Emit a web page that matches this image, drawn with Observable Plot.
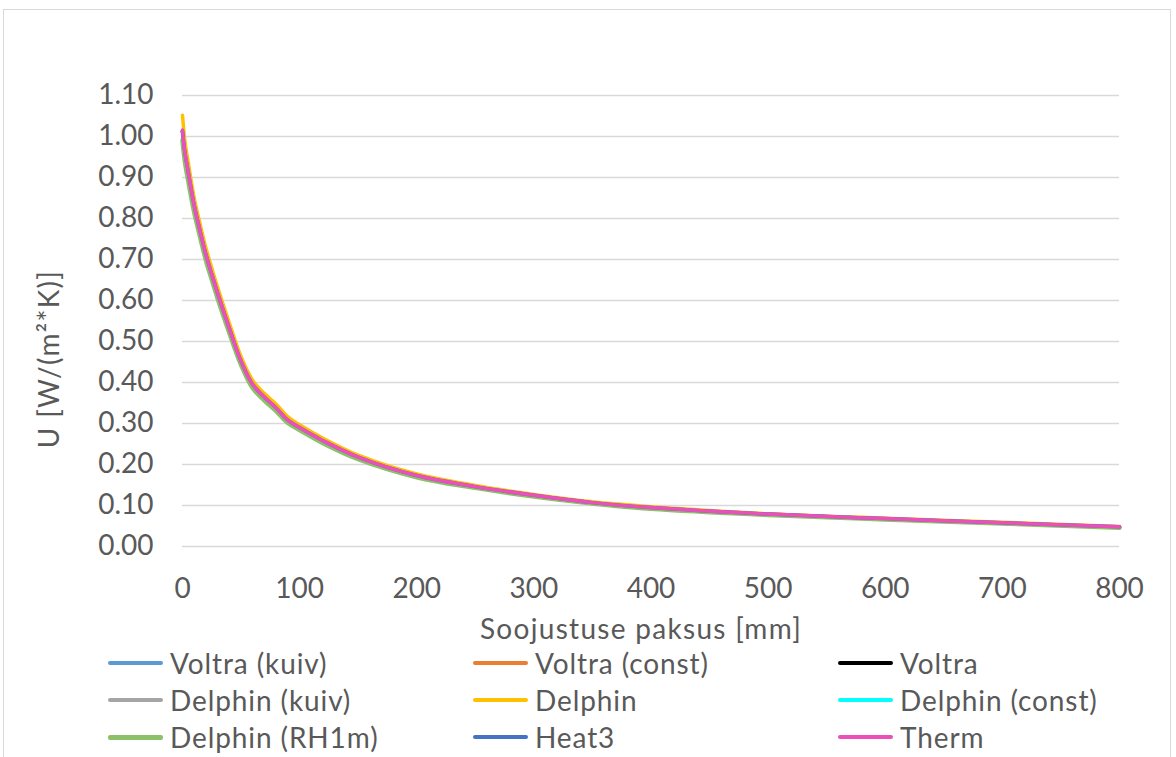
<!DOCTYPE html>
<html>
<head>
<meta charset="utf-8">
<script src="https://cdn.jsdelivr.net/npm/d3@7"></script>
<script src="https://cdn.jsdelivr.net/npm/@observablehq/plot@0.6"></script>
<style>
  html, body { margin: 0; padding: 0; background: #fff; }
  body { width: 1176px; height: 757px; position: relative; overflow: hidden; font-family: Lato, "Open Sans", sans-serif; }
  #frame { position: absolute; left: 3px; top: 9px; width: 1168px; height: 800px; border: 1px solid #d9d9d9; box-sizing: border-box; }
  #chart { position: absolute; left: 0; top: 0; }
  #legend { position: absolute; left: 0; top: 640px; width: 1176px; height: 117px; }
  .item { position: absolute; display: flex; align-items: center; height: 30px; color: #595959; font-size: 28px; letter-spacing: 0.9px; white-space: nowrap; }
  .item .swatch { width: 55px; height: 4px; border-radius: 2px; margin-right: 7px; }
  g.axis-title text { letter-spacing: 1.3px; }
</style>
</head>
<body>
<div id="frame"></div>
<div id="chart"></div>
<div id="legend"></div>
<script>
// Insulation thickness [mm]
const thickness = [0, 2, 5, 10, 15, 20, 25, 30, 40, 50, 60, 70, 80, 90, 100, 120, 150, 200, 250, 300, 350, 400, 500, 600, 700, 800];

// U-values [W/(m²·K)] per calculation tool
const voltraKuiv   = [1.012, 0.960, 0.910, 0.830, 0.768, 0.710, 0.662, 0.616, 0.530, 0.450, 0.393, 0.362, 0.336, 0.306, 0.288, 0.256, 0.216, 0.172, 0.145, 0.124, 0.106, 0.094, 0.078, 0.067, 0.057, 0.047];
const voltraConst  = [1.014, 0.961, 0.911, 0.831, 0.769, 0.711, 0.663, 0.617, 0.531, 0.451, 0.394, 0.363, 0.337, 0.307, 0.289, 0.257, 0.217, 0.172, 0.145, 0.124, 0.106, 0.094, 0.078, 0.067, 0.057, 0.047];
const voltra       = [1.013, 0.960, 0.910, 0.830, 0.768, 0.710, 0.663, 0.617, 0.531, 0.451, 0.394, 0.363, 0.337, 0.307, 0.289, 0.257, 0.217, 0.172, 0.145, 0.124, 0.106, 0.094, 0.078, 0.067, 0.057, 0.047];
const delphinKuiv  = [1.005, 0.955, 0.905, 0.826, 0.765, 0.707, 0.660, 0.614, 0.528, 0.448, 0.391, 0.360, 0.334, 0.305, 0.287, 0.255, 0.215, 0.171, 0.144, 0.123, 0.106, 0.093, 0.078, 0.067, 0.057, 0.047];
const delphin      = [1.052, 0.990, 0.935, 0.850, 0.787, 0.728, 0.679, 0.632, 0.545, 0.463, 0.405, 0.373, 0.347, 0.316, 0.297, 0.264, 0.223, 0.177, 0.149, 0.127, 0.109, 0.097, 0.080, 0.069, 0.059, 0.049];
const delphinConst = [1.010, 0.958, 0.908, 0.828, 0.767, 0.709, 0.661, 0.615, 0.529, 0.449, 0.392, 0.361, 0.335, 0.306, 0.288, 0.256, 0.216, 0.171, 0.145, 0.124, 0.106, 0.094, 0.078, 0.067, 0.057, 0.047];
const delphinRH1m  = [0.990, 0.940, 0.890, 0.815, 0.755, 0.698, 0.651, 0.605, 0.521, 0.443, 0.386, 0.356, 0.330, 0.301, 0.284, 0.252, 0.213, 0.169, 0.143, 0.122, 0.105, 0.092, 0.077, 0.066, 0.056, 0.046];
const heat3        = [1.015, 0.962, 0.912, 0.832, 0.770, 0.712, 0.664, 0.618, 0.532, 0.452, 0.395, 0.364, 0.338, 0.308, 0.290, 0.258, 0.218, 0.173, 0.146, 0.125, 0.107, 0.095, 0.079, 0.068, 0.058, 0.048];
const therm        = [1.015, 0.962, 0.912, 0.832, 0.770, 0.712, 0.664, 0.618, 0.532, 0.452, 0.395, 0.364, 0.338, 0.308, 0.290, 0.258, 0.218, 0.173, 0.146, 0.125, 0.107, 0.095, 0.079, 0.068, 0.058, 0.048];

const seriesNames  = ["Voltra (kuiv)", "Voltra (const)", "Voltra", "Delphin (kuiv)", "Delphin", "Delphin (const)", "Delphin (RH1m)", "Heat3", "Therm"];
const seriesValues = [voltraKuiv, voltraConst, voltra, delphinKuiv, delphin, delphinConst, delphinRH1m, heat3, therm];
const seriesColors = ["#5b9bd5", "#ed7d31", "#000000", "#a5a5a5", "#ffc000", "#00ffff", "#8cc168", "#4472c4", "#ea4fba"];
const seriesWidths = [3.5, 3.5, 3.5, 3.5, 3.5, 3.5, 4.5, 3.5, 3.5];

const yTicks = [0, 0.1, 0.2, 0.3, 0.4, 0.5, 0.6, 0.7, 0.8, 0.9, 1.0, 1.1];
const xTicks = [0, 100, 200, 300, 400, 500, 600, 700, 800];
const xTitle = "Soojustuse paksus [mm]";
const yTitle = "U [W/(m²*K)]";

// long-format rows for the line marks
const rows = seriesNames.flatMap((name, i) =>
  thickness.map((t, j) => ({series: name, order: i, t, u: seriesValues[i][j]}))
);

const textColor = "#595959";

const lineMarks = seriesNames.map((name, i) =>
  Plot.line(rows.filter(r => r.order === i), {
    x: "t", y: "u",
    stroke: seriesColors[i],
    strokeWidth: seriesWidths[i],
    curve: "catmull-rom",
    strokeLinecap: "round",
    strokeLinejoin: "round"
  })
);

const chart = Plot.plot({
  width: 1176,
  height: 640,
  marginLeft: 182,
  marginRight: 57,
  marginTop: 95,
  marginBottom: 94,
  style: {fontFamily: "Lato, 'Open Sans', sans-serif", background: "transparent", overflow: "visible"},
  x: {domain: [0, 800]},
  y: {domain: [0, 1.1]},
  marks: [
    Plot.ruleY(yTicks, {stroke: "#d9d9d9", strokeWidth: 1.5}),
    Plot.axisY({ticks: yTicks, tickSize: 0, tickPadding: 29, tickFormat: d3.format(".2f"), fontSize: 28, fill: textColor, label: null}),
    Plot.axisX({ticks: xTicks, tickSize: 0, tickPadding: 32, tickFormat: d => String(d), fontSize: 28, fill: textColor, label: null}),
    ...lineMarks,
    Plot.text([xTitle], {frameAnchor: "bottom", textAnchor: "middle", text: d => d, dx: -10, dy: 92, fontSize: 28, fill: textColor, className: "axis-title"}),
    Plot.text([yTitle], {frameAnchor: "left", textAnchor: "middle", lineAnchor: "middle", text: d => d, dx: -132, dy: 38, rotate: -90, fontSize: 28, fill: textColor, className: "axis-title"})
  ]
});
// wider tracking for the two axis titles
d3.select(chart).selectAll("g.axis-title text").style("letter-spacing", "1.3px");
document.getElementById("chart").appendChild(chart);

// legend: three columns, three rows
const legend = document.getElementById("legend");
const colX = [108, 473, 838];
const rowY = [8, 45, 82];
seriesNames.forEach((name, i) => {
  const item = document.createElement("div");
  item.className = "item";
  item.style.left = colX[i % 3] + "px";
  item.style.top = rowY[Math.floor(i / 3)] + "px";
  const sw = document.createElement("span");
  sw.className = "swatch";
  sw.style.background = seriesColors[i];
  if (seriesWidths[i] > 4) { sw.style.height = "5px"; }
  const label = document.createElement("span");
  label.textContent = name;
  item.appendChild(sw);
  item.appendChild(label);
  legend.appendChild(item);
});
</script>
</body>
</html>
